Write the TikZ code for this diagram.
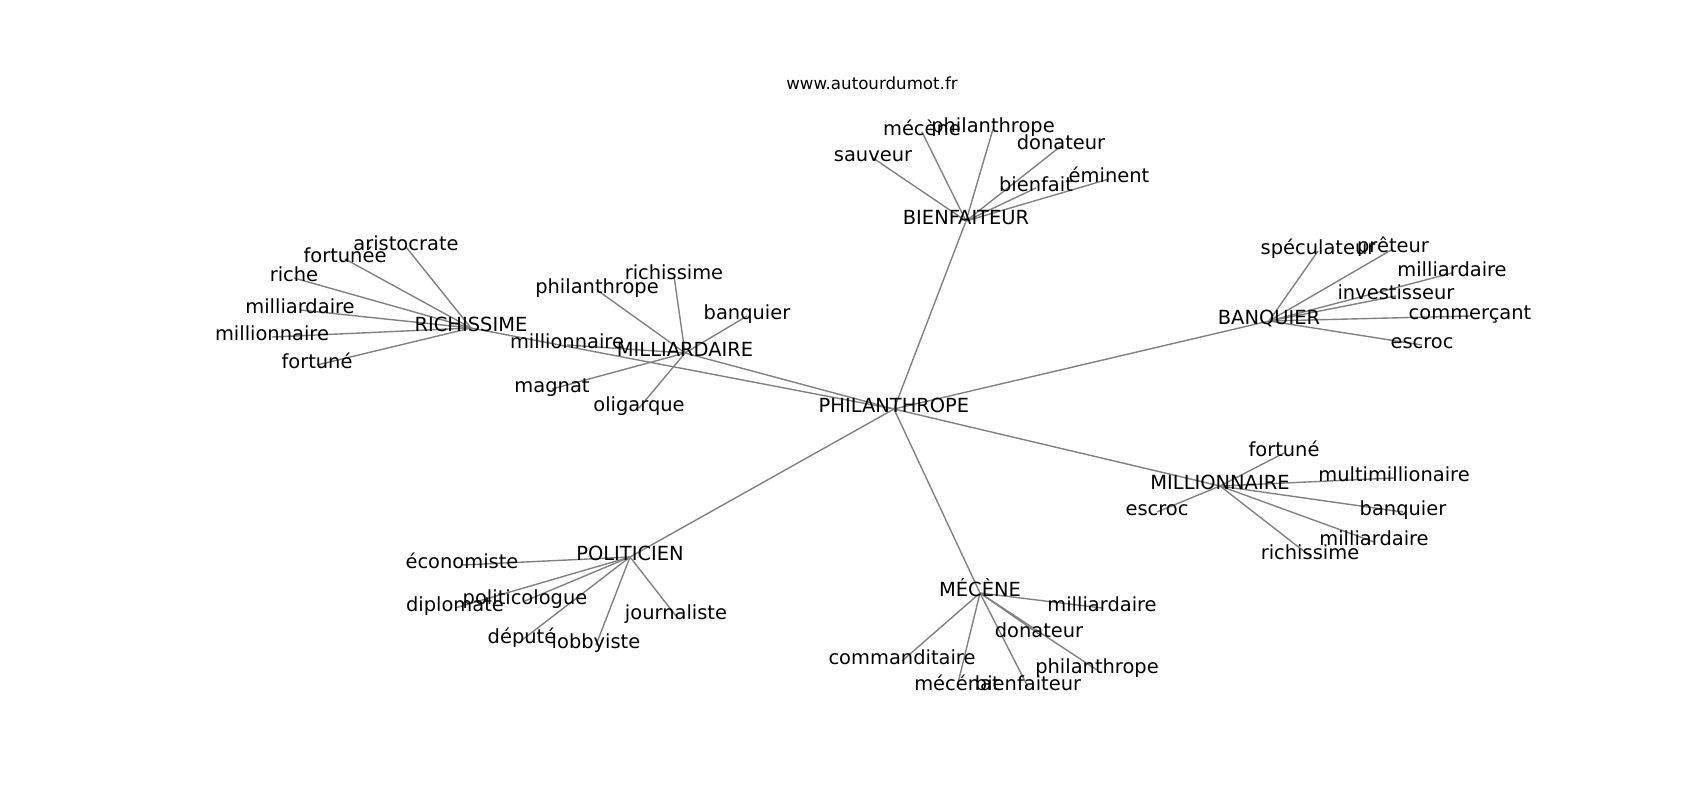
\documentclass[tikz,border=0pt]{standalone}
\usepackage{fontspec}
\setmainfont{DejaVu Sans}
\usetikzlibrary{backgrounds}
\begin{document}
\begin{tikzpicture}[x=0.72pt,y=-0.72pt,
  lbl/.style={font=\fontsize{14}{16}\selectfont, inner sep=0pt, text height=0.76em, text depth=0.24em, anchor=center},
  ttl/.style={font=\fontsize{12}{14}\selectfont, inner sep=0pt, text height=0.76em, text depth=0.24em, anchor=center},
  edge/.style={draw={rgb,255:red,128;green,128;blue,128}, line width=1pt}]
\useasboundingbox (0,0) rectangle (1700,800);
\begin{scope}[shift={(0,4)}]
\node[ttl] (title) at (872,82) {www.autourdumot.fr};
% hub
\node[lbl] (P) at (894,405) {PHILANTHROPE};
% BIENFAITEUR
\node[lbl] (B) at (966,217) {BIENFAITEUR};
\node[lbl] (b1) at (873,154) {sauveur};
\node[lbl] (b2) at (922,128) {mécène};
\node[lbl] (b3) at (993,125) {philanthrope};
\node[lbl] (b4) at (1061,142) {donateur};
\node[lbl] (b5) at (1036,184) {bienfait};
\node[lbl] (b6) at (1109,175) {éminent};
% RICHISSIME
\node[lbl] (R) at (471,324) {RICHISSIME};
\node[lbl] (r1) at (406,243) {aristocrate};
\node[lbl] (r2) at (345,255) {fortunée};
\node[lbl] (r3) at (294,274) {riche};
\node[lbl] (r4) at (300,306) {milliardaire};
\node[lbl] (r5) at (272,333) {millionnaire};
\node[lbl] (r6) at (317,361) {fortuné};
% MILLIARDAIRE
\node[lbl] (M) at (685,349) {MILLIARDAIRE};
\node[lbl] (m1) at (597,286) {philanthrope};
\node[lbl] (m2) at (674,272) {richissime};
\node[lbl] (m3) at (747,312) {banquier};
\node[lbl] (m4) at (567,341) {millionnaire};
\node[lbl] (m5) at (552,385) {magnat};
\node[lbl] (m6) at (639,404) {oligarque};
% BANQUIER
\node[lbl] (K) at (1269,317) {BANQUIER};
\node[lbl] (k1) at (1318,247) {spéculateur};
\node[lbl] (k2) at (1393,245) {prêteur};
\node[lbl] (k3) at (1452,269) {milliardaire};
\node[lbl] (k4) at (1396,292) {investisseur};
\node[lbl] (k5) at (1470,312) {commerçant};
\node[lbl] (k6) at (1422,341) {escroc};
% MILLIONNAIRE
\node[lbl] (L) at (1220,482) {MILLIONNAIRE};
\node[lbl] (l1) at (1284,449) {fortuné};
\node[lbl] (l2) at (1394,474) {multimillionaire};
\node[lbl] (l3) at (1157,508) {escroc};
\node[lbl] (l4) at (1403,508) {banquier};
\node[lbl] (l5) at (1374,538) {milliardaire};
\node[lbl] (l6) at (1310,552) {richissime};
% POLITICIEN
\node[lbl] (T) at (630,553) {POLITICIEN};
\node[lbl] (t1) at (462,561) {économiste};
\node[lbl] (t2) at (525,597) {politicologue};
\node[lbl] (t3) at (455,604) {diplomate};
\node[lbl] (t4) at (676,612) {journaliste};
\node[lbl] (t5) at (522,636) {député};
\node[lbl] (t6) at (596,641) {lobbyiste};
% MECENE
\node[lbl] (C) at (980,589) {MÉCÈNE};
\node[lbl] (c1) at (1102,604) {milliardaire};
\node[lbl] (c2) at (1039,630) {donateur};
\node[lbl] (c3) at (902,657) {commanditaire};
\node[lbl] (c4) at (1097,666) {philanthrope};
\node[lbl] (c5) at (957,683) {mécénat};
\node[lbl] (c6) at (1028,683) {bienfaiteur};
\begin{scope}[on background layer]
\foreach \a/\b in {P/B,P/R,P/M,P/K,P/L,P/T,P/C,
  B/b1,B/b2,B/b3,B/b4,B/b5,B/b6,
  R/r1,R/r2,R/r3,R/r4,R/r5,R/r6,
  M/m1,M/m2,M/m3,M/m4,M/m5,M/m6,
  K/k1,K/k2,K/k3,K/k4,K/k5,K/k6,
  L/l1,L/l2,L/l3,L/l4,L/l5,L/l6,
  T/t1,T/t2,T/t3,T/t4,T/t5,T/t6,
  C/c1,C/c2,C/c3,C/c4,C/c5,C/c6}
  \draw[edge] (\a.center) -- (\b.center);
\end{scope}
\end{scope}
\end{tikzpicture}
\end{document}
